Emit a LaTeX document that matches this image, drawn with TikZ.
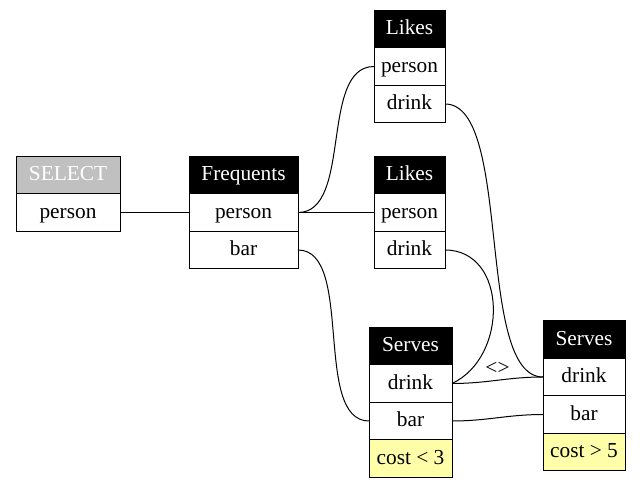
\documentclass[tikz,border=0pt]{standalone}
\usepackage{fontspec}
\setmainfont{Liberation Serif}
\usetikzlibrary{positioning}
\definecolor{selgray}{HTML}{C0C0C0}
\definecolor{condyellow}{HTML}{FFFFAA}

\begin{document}
\begin{tikzpicture}[x=0.75pt, y=-0.75pt, line width=0.75pt,
    every node/.append style={draw, outer sep=0pt, inner sep=0pt, minimum height=28.125pt,
      text height=12pt, text depth=3pt, font=\fontsize{16}{18}\selectfont},
    head/.style={fill=black, text=white},
    selhead/.style={fill=selgray, text=white},
    field/.style={fill=white},
    cond/.style={fill=condyellow},
    lbl/.style={draw=none, fill=none, minimum height=0pt, inner sep=1pt}]
        \useasboundingbox (0,0) rectangle (640,488);

        % tables
        \node [selhead, minimum width=78pt] (SEL) at (68,175) {SELECT};
        \node [field, minimum width=78pt, below=0pt of SEL] (SELp) {person};

        \node [head, minimum width=81.75pt] (FRQ) at (243.5,175) {Frequents};
        \node [field, minimum width=81.75pt, below=0pt of FRQ] (FRQp) {person};
        \node [field, minimum width=81.75pt, below=0pt of FRQp] (FRQb) {bar};

        \node [head, minimum width=53.25pt] (LK1) at (409.5,29) {Likes};
        \node [field, minimum width=53.25pt, below=0pt of LK1] (LK1p) {person};
        \node [field, minimum width=53.25pt, below=0pt of LK1p] (LK1d) {drink};

        \node [head, minimum width=53.25pt] (LK2) at (409.5,175) {Likes};
        \node [field, minimum width=53.25pt, below=0pt of LK2] (LK2p) {person};
        \node [field, minimum width=53.25pt, below=0pt of LK2p] (LK2d) {drink};

        \node [head, minimum width=62.25pt] (SV1) at (410.5,346) {Serves};
        \node [field, minimum width=62.25pt, below=0pt of SV1] (SV1d) {drink};
        \node [field, minimum width=62.25pt, below=0pt of SV1d] (SV1b) {bar};
        \node [cond, minimum width=62.25pt, below=0pt of SV1b] (SV1c) {cost < 3};

        \node [head, minimum width=61.5pt] (SV2) at (584,339.5) {Serves};
        \node [field, minimum width=61.5pt, below=0pt of SV2] (SV2d) {drink};
        \node [field, minimum width=61.5pt, below=0pt of SV2d] (SV2b) {bar};
        \node [cond, minimum width=61.5pt, below=0pt of SV2b] (SV2c) {cost > 5};

        % joins
        \draw (SELp) -- (FRQp);
        \draw (FRQp) -- (LK2p);
        \draw (FRQp.east) to [out=0, in=180, looseness=0.85] (LK1p.west);
        \draw (FRQb.east) to [out=0, in=180, looseness=0.78] (SV1b.west);
        \draw (LK1d.east) to [out=0, in=180, looseness=0.6] (SV2d.west);
        \draw (LK2d.east) to [out=0, in=25, looseness=1.2] (SV1d.east);
        \draw (SV1d.east) to [out=0, in=180] node [lbl, above] {<>} (SV2d.west);
        \draw (SV1b.east) to [out=0, in=180] (SV2b.west);
    \end{tikzpicture}
\end{document}
